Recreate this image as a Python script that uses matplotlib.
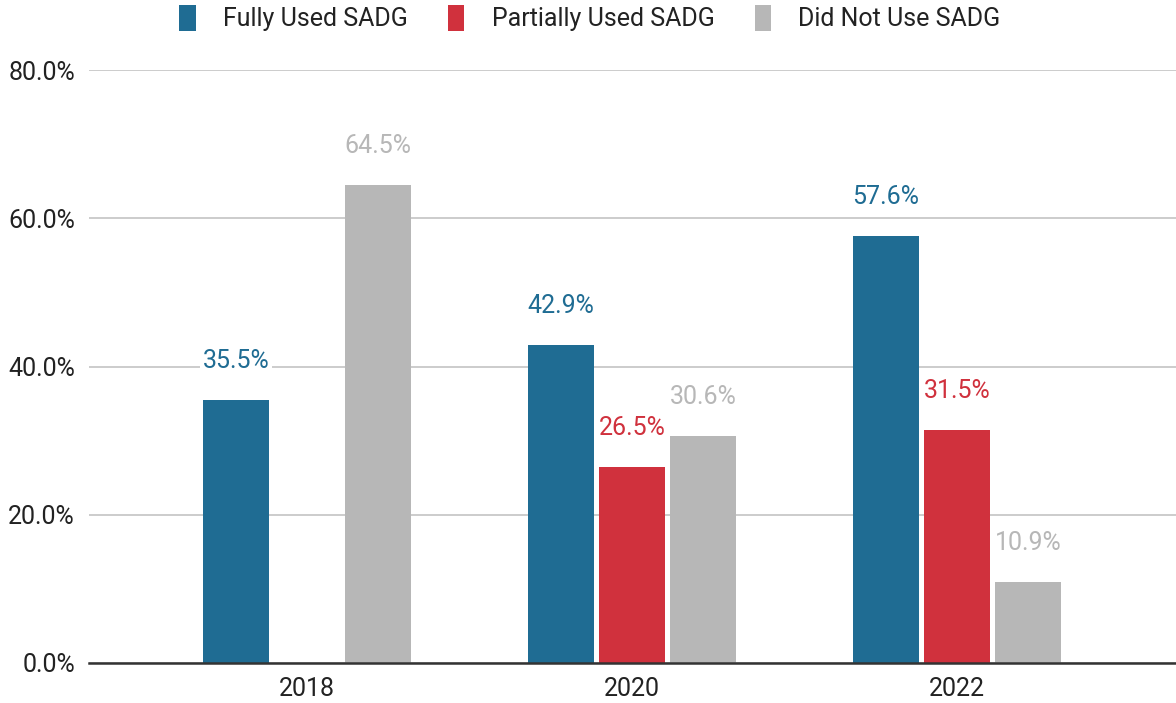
import matplotlib
matplotlib.use("Agg")
import matplotlib.pyplot as plt
import numpy as np

plt.rcParams['font.family'] = ['Roboto', 'DejaVu Sans']

years = ["2018", "2020", "2022"]
series = ["Fully Used SADG", "Partially Used SADG", "Did Not Use SADG"]
fully = [35.5, 42.9, 57.6]
partially = [None, 26.5, 31.5]
did_not = [64.5, 30.6, 10.9]
colors = ["#1f6c93", "#d0313d", "#b7b7b7"]
yticks = [0, 20, 40, 60, 80]

W, H = 1176, 703
fig = plt.figure(figsize=(W / 100, H / 100), dpi=100)
ax = fig.add_axes([89 / W, 40 / H, (W - 89) / W, (663 - 70) / H])

x = np.arange(len(years))
width = 0.203
step = 0.219
for i, (vals, col, name) in enumerate(zip([fully, partially, did_not], colors, series)):
    xs = x + (i - 1) * step
    for xi, v in zip(xs, vals):
        if v is None:
            continue
        ax.bar(xi, v, width=width, color=col, zorder=3)
        ax.annotate(f"{v:.1f}%", (xi, v), xytext=(0, 28), textcoords="offset points",
                    ha="center", va="center", color=col, fontsize=18,
                    bbox=dict(boxstyle="square,pad=0.1", fc="white", ec="none"), zorder=4)
    ax.bar([np.nan], [np.nan], color=col, label=name)

ax.set_xlim(-0.672, 2.675)
ax.set_ylim(0, 80)
ax.set_yticks(yticks)
ax.set_yticklabels([f"{t:.1f}%" for t in yticks])
ax.set_xticks(x)
ax.set_xticklabels(years)
ax.tick_params(axis="both", length=0, labelsize=18, colors="#222222")
ax.tick_params(axis="y", pad=10)
ax.tick_params(axis="x", pad=10)
ax.yaxis.grid(True, color="#cccccc", linewidth=1.4, zorder=0)
for s in ["top", "right", "left"]:
    ax.spines[s].set_visible(False)
ax.spines["bottom"].set_color("#333333")
ax.spines["bottom"].set_linewidth(1.8)
ax.spines["bottom"].set_zorder(5)

leg = fig.legend(loc="center", bbox_to_anchor=(590 / W, 1 - 18 / H), ncol=3, frameon=False,
                 fontsize=18, handlelength=0.65, handleheight=1.2, handletextpad=1.1,
                 columnspacing=1.6, labelcolor="#222222")

fig.savefig("out.png", dpi=100, facecolor="white")
